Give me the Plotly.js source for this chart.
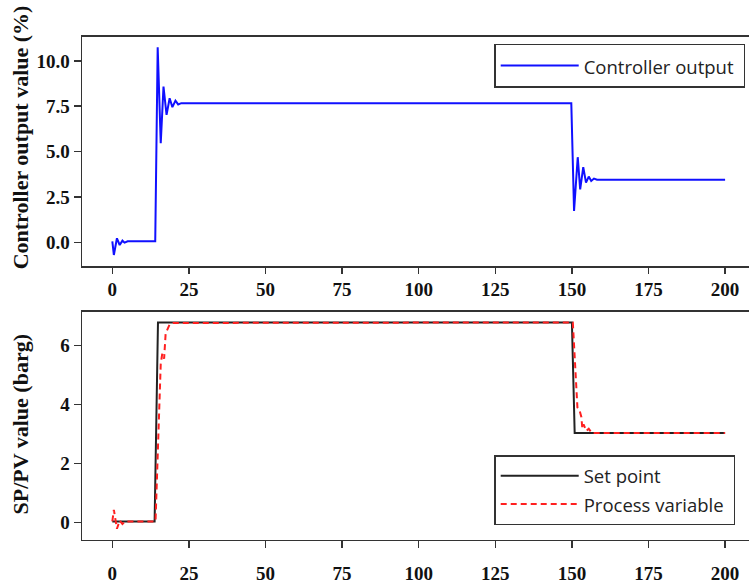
<!DOCTYPE html>
<html>
<head>
<meta charset="utf-8">
<script src="https://cdn.plot.ly/plotly-3.0.1.min.js"></script>
<style>html,body{margin:0;padding:0;background:#fff;}#chart{width:749px;height:586px;}</style>
</head>
<body>
<div id="chart"></div>
<script>
// Controller output (%)
const coTime  = [0, 0.5, 1.5, 2.4, 3.3, 4.0, 5.0, 14.0, 14.8, 15.8, 16.7, 17.7, 18.7, 19.6, 20.6, 21.5, 22.5, 149.8, 150.7, 151.9, 152.7, 153.7, 154.6, 155.5, 156.3, 157.2, 158.2, 200];
const coValue = [0.05, -0.70, 0.22, -0.15, 0.09, -0.02, 0.05, 0.05, 10.75, 5.46, 8.58, 7.02, 7.94, 7.45, 7.81, 7.60, 7.67, 7.67, 1.73, 4.69, 2.92, 4.14, 3.29, 3.62, 3.38, 3.51, 3.45, 3.45];
// Set point (barg)
const spTime  = [0, 13.8, 14.9, 150.0, 150.9, 200];
const spValue = [0.04, 0.04, 6.78, 6.78, 3.03, 3.03];
// Process variable (barg)
const pvTime  = [0, 0.5, 1.5, 2.4, 3.3, 4.2, 14.1, 15.8, 16.3, 16.9, 17.4, 18.2, 18.7, 19.8, 150.3, 151.8, 152.5, 153.1, 153.4, 153.8, 154.7, 155.5, 156.5, 200];
const pvValue = [0.04, 0.43, -0.21, 0.07, -0.05, 0.04, 0.04, 5.38, 5.72, 5.55, 6.40, 6.62, 6.71, 6.76, 6.78, 3.90, 3.80, 3.57, 3.18, 3.33, 3.10, 3.18, 3.03, 3.03];

const xTicks = [0, 25, 50, 75, 100, 125, 150, 175, 200];
const coTicks = [0, 2.5, 5, 7.5, 10];
const coTickText = ['0.0', '2.5', '5.0', '7.5', '10.0'];
const pvTicks = [0, 2, 4, 6];

const serif = {family: 'Liberation Serif', size: 19, color: '#111', weight: 'bold'};
const titleFont = {family: 'Liberation Serif', size: 22, color: '#111', weight: 'bold'};
const legName = s => '<span style="font-size:18.5px">' + s + '&nbsp;</span>';

const traces = [
  {x: coTime, y: coValue, xaxis: 'x', yaxis: 'y', mode: 'lines', name: legName('Controller output'),
   line: {color: '#1010ff', width: 2}, legend: 'legend'},
  {x: spTime, y: spValue, xaxis: 'x2', yaxis: 'y2', mode: 'lines', name: legName('Set point'),
   line: {color: '#222', width: 2}, legend: 'legend2'},
  {x: pvTime, y: pvValue, xaxis: 'x2', yaxis: 'y2', mode: 'lines', name: legName('Process variable'),
   line: {color: '#ff2020', width: 2, dash: '6px,4px'}, legend: 'legend2'}
];

const xBase = {
  range: [-9.9, 207.8], tickvals: xTicks, ticks: 'outside', ticklen: 6, tickwidth: 1.5, tickcolor: '#333',
  showline: true, linecolor: '#333', linewidth: 1.5, mirror: true, showgrid: false, zeroline: false,
  tickfont: serif
};
const yBase = {
  ticks: 'outside', ticklen: 7, tickwidth: 1.5, tickcolor: '#333',
  showline: true, linecolor: '#333', linewidth: 1.5, mirror: false, showgrid: false, zeroline: false,
  tickfont: serif
};

const layout = {
  width: 749, height: 586,
  margin: {l: 82, r: 0, t: 0, b: 0},
  paper_bgcolor: '#fff', plot_bgcolor: '#fff',
  showlegend: true,
  xaxis: Object.assign({}, xBase, {domain: [0, 1], anchor: 'y'}),
  yaxis: Object.assign({}, yBase, {domain: [0.546, 0.937], anchor: 'x', range: [-1.31, 11.32], tickvals: coTicks, ticktext: coTickText}),
  xaxis2: Object.assign({}, xBase, {domain: [0, 1], anchor: 'y2', ticklen: 7, ticklabelstandoff: 9}),
  yaxis2: Object.assign({}, yBase, {domain: [0.0785, 0.468], anchor: 'x2', range: [-0.59, 7.14], tickvals: pvTicks}),
  legend: {x: 0.618, y: 0.925, xanchor: 'left', yanchor: 'top', bgcolor: '#fff', bordercolor: '#333', borderwidth: 1.5,
           font: {family: 'Open Sans', size: 21, color: '#222'}, itemwidth: 78},
  legend2: {x: 0.618, y: 0.2235, xanchor: 'left', yanchor: 'top', bgcolor: '#fff', bordercolor: '#333', borderwidth: 1.5,
           font: {family: 'Open Sans', size: 19.5, color: '#222'}, itemwidth: 78},
  annotations: [
    {text: 'Controller output value (%)', xref: 'paper', yref: 'paper', x: -0.092, y: 0.765, textangle: -90,
     showarrow: false, font: titleFont, xanchor: 'center', yanchor: 'middle'},
    {text: 'SP/PV value (barg)', xref: 'paper', yref: 'paper', x: -0.092, y: 0.275, textangle: -90,
     showarrow: false, font: titleFont, xanchor: 'center', yanchor: 'middle'}
  ]
};

Plotly.newPlot('chart', traces, layout, {displayModeBar: false, staticPlot: true});
</script>
</body>
</html>
